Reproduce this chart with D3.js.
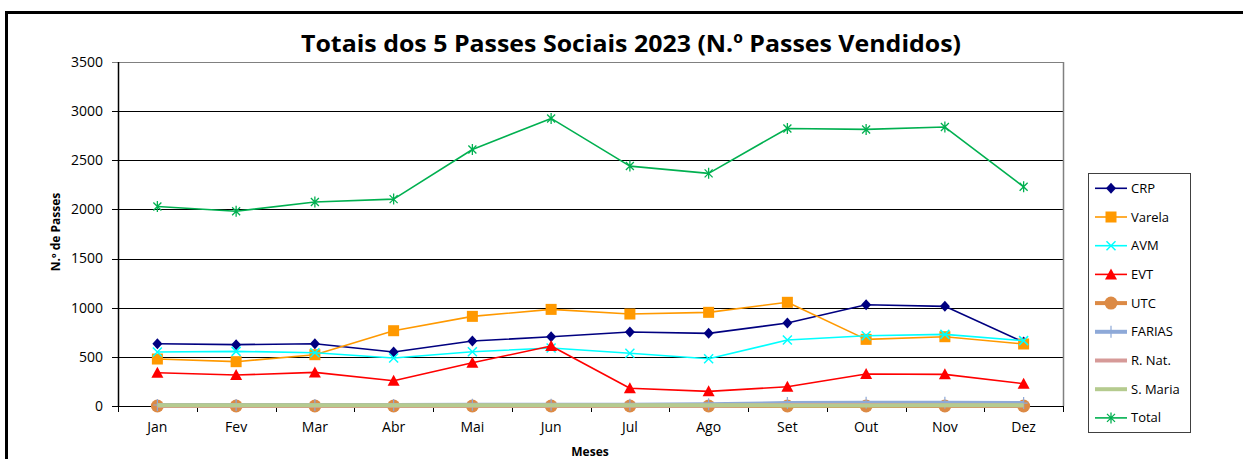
<!DOCTYPE html>
<html lang="pt">
<head>
  <meta charset="UTF-8">
  <title>Totais dos 5 Passes Sociais 2023</title>
  <script src="https://cdn.jsdelivr.net/npm/d3@7"></script>
  <style>
    body { margin: 0; background: #fff; }
    svg text { font-family: "Open Sans", "Liberation Sans", sans-serif; fill: #000; }
  </style>
</head>
<body>
<script>
// data
var meses = ["Jan","Fev","Mar","Abr","Mai","Jun","Jul","Ago","Set","Out","Nov","Dez"];
var crp    = [634, 624, 634, 549, 661, 705, 753, 739, 844, 1030, 1014, 650];
var varela = [478, 451, 522, 766, 912, 983, 936, 953, 1055, 678, 705, 631];
var avm    = [549, 556, 542, 488, 552, 590, 536, 481, 671, 715, 729, 665];
var evt    = [339, 315, 342, 257, 440, 610, 180, 149, 196, 325, 322, 227];
var utc    = [0, 0, 0, 0, 0, 0, 0, 0, 0, 0, 0, 0];
var farias = [10, 10, 10, 10, 12, 12, 12, 18, 30, 32, 32, 30];
var rnat   = [3, 3, 3, 3, 3, 3, 3, 3, 10, 10, 8, 5];
var smaria = [8, 8, 8, 8, 8, 8, 8, 8, 6, 6, 8, 8];
var total  = [2030, 1982, 2075, 2105, 2610, 2926, 2441, 2367, 2824, 2814, 2838, 2230];
var yTicks = [0, 500, 1000, 1500, 2000, 2500, 3000, 3500];

var series = [
  {name: "CRP",      values: crp,    color: "#000080", width: 1.6, marker: "diamond"},
  {name: "Varela",   values: varela, color: "#FF9900", width: 1.6, marker: "square"},
  {name: "AVM",      values: avm,    color: "#00FFFF", width: 1.6, marker: "x"},
  {name: "EVT",      values: evt,    color: "#FF0000", width: 1.6, marker: "triangle"},
  {name: "UTC",      values: utc,    color: "#DC8A45", width: 4,   marker: "circle"},
  {name: "FARIAS",   values: farias, color: "#8EA9D8", width: 4,   marker: "plus"},
  {name: "R. Nat.",  values: rnat,   color: "#D69A98", width: 4,   marker: null},
  {name: "S. Maria", values: smaria, color: "#B5CB8F", width: 4,   marker: null},
  {name: "Total",    values: total,  color: "#00B050", width: 1.6, marker: "star"}
];

var W = 1243, H = 459;
var pLeft = 118, pRight = 1063, pTop = 62, pBottom = 406;

var svg = d3.select("body").append("svg").attr("width", W).attr("height", H);

// outer frame (runs off the picture at right and bottom)
svg.append("rect").attr("x", 6.5).attr("y", 12.5).attr("width", 1260).attr("height", 470)
  .attr("fill", "none").attr("stroke", "#000").attr("stroke-width", 3);

var x = d3.scalePoint().domain(meses).range([pLeft, pRight]).padding(0.5);
var xb = d3.scaleBand().domain(meses).range([pLeft, pRight]);
var y = d3.scaleLinear().domain([0, 3500]).range([pBottom, pTop]);

// gridlines + y ticks
svg.append("g").selectAll("line").data(yTicks).join("line")
  .attr("x1", pLeft - 6).attr("x2", pRight)
  .attr("y1", d => Math.round(y(d)) + 0.5).attr("y2", d => Math.round(y(d)) + 0.5)
  .attr("stroke", d => d === 3500 ? "#808080" : "#000").attr("stroke-width", 1);
svg.append("g").selectAll("text").data(yTicks).join("text")
  .attr("x", 103).attr("y", d => y(d)).attr("dy", "0.35em")
  .attr("text-anchor", "end").attr("font-size", 14).text(d => d);

// plot border right, left axis
svg.append("line").attr("x1", pRight + 0.5).attr("x2", pRight + 0.5).attr("y1", pTop).attr("y2", pBottom)
  .attr("stroke", "#808080").attr("stroke-width", 1.5);
svg.append("line").attr("x1", pLeft + 0.5).attr("x2", pLeft + 0.5).attr("y1", pTop).attr("y2", pBottom)
  .attr("stroke", "#000").attr("stroke-width", 1.5);

// x ticks at category boundaries
var bounds = meses.map(m => xb(m)).concat([pRight]);
svg.append("g").selectAll("line").data(bounds).join("line")
  .attr("x1", d => Math.round(d) + 0.5).attr("x2", d => Math.round(d) + 0.5)
  .attr("y1", pBottom).attr("y2", pBottom + 6).attr("stroke", "#000");
svg.append("g").selectAll("text").data(meses).join("text")
  .attr("x", d => x(d)).attr("y", 427).attr("dy", "0.35em")
  .attr("text-anchor", "middle").attr("font-size", 14).text(d => d);

// titles
svg.append("text").attr("x", 631).attr("y", 52).attr("text-anchor", "middle")
  .attr("font-size", 24).attr("font-weight", "bold")
  .attr("textLength", 660).attr("lengthAdjust", "spacingAndGlyphs")
  .text("Totais dos 5 Passes Sociais 2023 (N.º Passes Vendidos)");
svg.append("text").attr("x", 590).attr("y", 452).attr("dy", "0.35em").attr("text-anchor", "middle")
  .attr("font-size", 12).attr("font-weight", "bold").text("Meses");
svg.append("text").attr("transform", "translate(56,232) rotate(-90)").attr("dy", "0.35em")
  .attr("text-anchor", "middle").attr("font-size", 12).attr("font-weight", "bold").text("N.º de Passes");

function drawMarker(g, type, color) {
  if (type === "diamond") {
    g.append("path").attr("d", "M0,-5.5L5,0L0,5.5L-5,0Z").attr("fill", color);
  } else if (type === "square") {
    g.append("rect").attr("x", -5.5).attr("y", -5.5).attr("width", 11).attr("height", 11).attr("fill", color);
  } else if (type === "x") {
    g.append("path").attr("d", "M-4.5,-4.5L4.5,4.5M-4.5,4.5L4.5,-4.5").attr("stroke", color).attr("stroke-width", 1.5);
  } else if (type === "triangle") {
    g.append("path").attr("d", "M0,-6L6,5L-6,5Z").attr("fill", color);
  } else if (type === "circle") {
    g.append("circle").attr("r", 6.5).attr("fill", color);
  } else if (type === "plus") {
    g.append("path").attr("d", "M0,-6L0,6M-4,0L4,0").attr("stroke", color).attr("stroke-width", 1.2);
  } else if (type === "star") {
    g.append("path").attr("d", "M-4,-4L4,4M-4,4L4,-4M0,-5.5L0,5.5").attr("stroke", color).attr("stroke-width", 1.3);
  }
}

var line = d3.line().x((d, i) => x(meses[i])).y(d => y(d));

series.forEach(function (s) {
  var g = svg.append("g");
  g.append("path").datum(s.values).attr("d", line)
    .attr("fill", "none").attr("stroke", s.color).attr("stroke-width", s.width)
    .attr("stroke-linejoin", "round");
  if (s.marker) {
    s.values.forEach(function (v, i) {
      drawMarker(g.append("g").attr("transform", "translate(" + x(meses[i]) + "," + y(v) + ")"), s.marker, s.color);
    });
  }
});

// legend
var lg = svg.append("g");
lg.append("rect").attr("x", 1088.5).attr("y", 173.5).attr("width", 102).attr("height", 259)
  .attr("fill", "#fff").attr("stroke", "#404040").attr("stroke-width", 1);
series.forEach(function (s, i) {
  var ly = 188.3 + i * 28.7;
  var e = lg.append("g");
  e.append("line").attr("x1", 1095).attr("x2", 1127).attr("y1", ly).attr("y2", ly)
    .attr("stroke", s.color).attr("stroke-width", s.width);
  if (s.marker) drawMarker(e.append("g").attr("transform", "translate(1111," + ly + ")"), s.marker, s.color);
  e.append("text").attr("x", 1131).attr("y", ly).attr("dy", "0.35em").attr("font-size", 13).text(s.name);
});
</script>
</body>
</html>
